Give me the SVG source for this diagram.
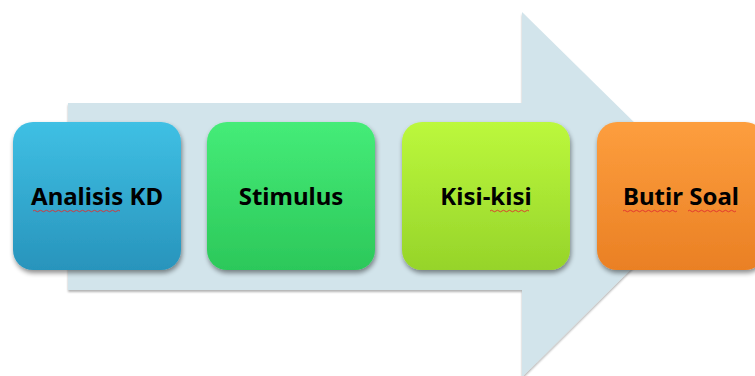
<svg xmlns="http://www.w3.org/2000/svg" width="755" height="376" viewBox="0 0 755 376">
  <defs>
    <linearGradient id="gBlue" x1="0" y1="0" x2="0" y2="1">
      <stop offset="0" stop-color="#3fc0e4"/>
      <stop offset="1" stop-color="#2894bc"/>
    </linearGradient>
    <linearGradient id="gGreen" x1="0" y1="0" x2="0" y2="1">
      <stop offset="0" stop-color="#45ec78"/>
      <stop offset="1" stop-color="#2cc85a"/>
    </linearGradient>
    <linearGradient id="gLime" x1="0" y1="0" x2="0" y2="1">
      <stop offset="0" stop-color="#bcf83c"/>
      <stop offset="1" stop-color="#96d42a"/>
    </linearGradient>
    <linearGradient id="gOrange" x1="0" y1="0" x2="0" y2="1">
      <stop offset="0" stop-color="#fd9e3e"/>
      <stop offset="1" stop-color="#ea8024"/>
    </linearGradient>
    <filter id="shadow" x="-10%" y="-10%" width="125%" height="130%">
      <feGaussianBlur in="SourceAlpha" stdDeviation="2.5"/>
      <feOffset dx="1" dy="3" result="b"/>
      <feComponentTransfer><feFuncA type="linear" slope="0.45"/></feComponentTransfer>
      <feMerge><feMergeNode/><feMergeNode in="SourceGraphic"/></feMerge>
    </filter>
    <filter id="soft" x="-5%" y="-5%" width="110%" height="110%">
      <feGaussianBlur in="SourceAlpha" stdDeviation="1.2"/>
      <feOffset dx="0" dy="1.5"/>
      <feComponentTransfer><feFuncA type="linear" slope="0.3"/></feComponentTransfer>
      <feMerge><feMergeNode/><feMergeNode in="SourceGraphic"/></feMerge>
    </filter>
  </defs>
  <style>
    .lbl { font-family: "Noto Sans", "Open Sans", sans-serif; font-weight: bold; font-size: 24px; fill: #000; text-anchor: middle; }
    .box { filter: url(#shadow); }
    .spell { fill: none; stroke: #e03030; stroke-width: 0.9; }
  </style>

  <!-- background process arrow -->
  <g id="arrow">
    <path d="M68,103 L522,103 L522,12 L707,194 L522,377 L522,290 L68,290 Z" fill="#d2e4eb" filter="url(#soft)"/>
  </g>

  <g id="connectors"></g>

  <g id="node-analisis">
    <rect class="box" x="13" y="122" width="168" height="148" rx="20" fill="url(#gBlue)"/>
    <text class="lbl" x="97" y="205">Analisis KD</text>
    <path class="spell" d="M33,211 q1.5,-1.5 3,0 t3,0 t3,0 t3,0 t3,0 t3,0 t3,0 t3,0 t3,0 t3,0 t3,0 t3,0 t3,0 t3,0 t3,0 t3,0 t3,0 t3,0 t3,0 t3,0 t3,0 t3,0 t3,0 t3,0 t3,0 t3,0 t3,0 t3,0 t3,0"/>
  </g>

  <g id="node-stimulus">
    <rect class="box" x="207" y="122" width="168" height="148" rx="20" fill="url(#gGreen)"/>
    <text class="lbl" x="291" y="205">Stimulus</text>
  </g>

  <g id="node-kisi">
    <rect class="box" x="402" y="122" width="168" height="148" rx="20" fill="url(#gLime)"/>
    <text class="lbl" x="486" y="205">Kisi-kisi</text>
    <path class="spell" d="M490,211 q1.5,-1.5 3,0 t3,0 t3,0 t3,0 t3,0 t3,0 t3,0 t3,0 t3,0 t3,0 t3,0 t3,0 t3,0"/>
  </g>

  <g id="node-butir">
    <rect class="box" x="597" y="122" width="168" height="148" rx="20" fill="url(#gOrange)"/>
    <text class="lbl" x="681" y="205">Butir Soal</text>
    <path class="spell" d="M623,211 q1.5,-1.5 3,0 t3,0 t3,0 t3,0 t3,0 t3,0 t3,0 t3,0 t3,0 t3,0 t3,0 t3,0 t3,0 t3,0 t3,0 t3,0 t3,0 t3,0"/>
    <path class="spell" d="M688,211 q1.5,-1.5 3,0 t3,0 t3,0 t3,0 t3,0 t3,0 t3,0 t3,0 t3,0 t3,0 t3,0 t3,0 t3,0 t3,0 t3,0 t3,0"/>
  </g>
</svg>
